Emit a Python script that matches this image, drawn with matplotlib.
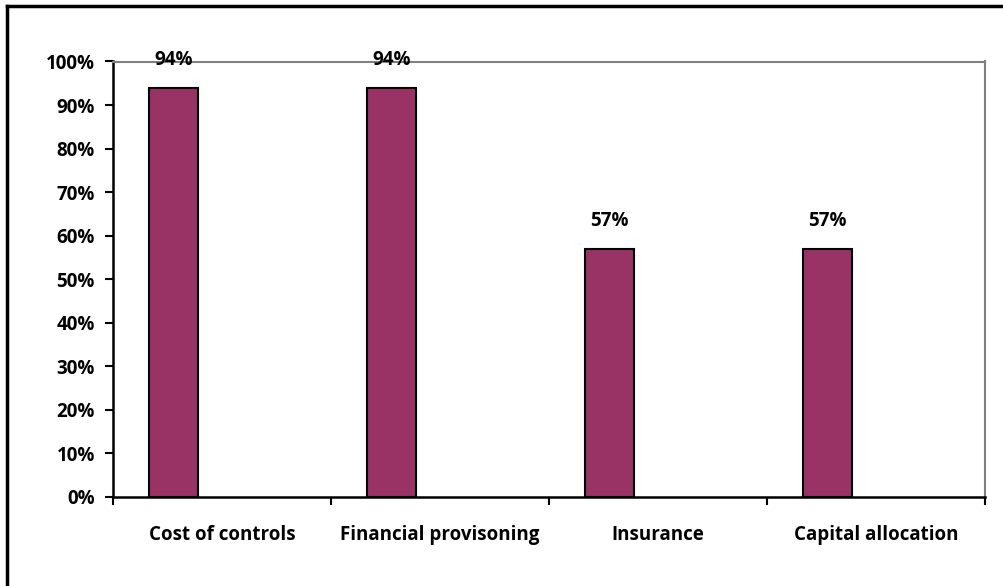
import matplotlib
matplotlib.use("Agg")
import matplotlib.pyplot as plt
from matplotlib.lines import Line2D

categories = ["Cost of controls", "Financial provisoning", "Insurance", "Capital allocation"]
values = [94, 94, 57, 57]
value_labels = ["94%", "94%", "57%", "57%"]

plt.rcParams['font.family'] = ['Open Sans', 'DejaVu Sans']
plt.rcParams['font.weight'] = 'bold'
FS = 13.5

fig = plt.figure(figsize=(10.04, 5.86), dpi=100)
ax = fig.add_axes([113 / 1004, 1 - 497 / 586, 872 / 1004, 435.5 / 586])

# bars sit in the first slot of a 3-series cluster (gap 150%)
slot = 1 / 4.5
xs = [i - 0.5 + 1.5 * slot / 2 + slot / 2 for i in range(len(categories))]
ax.bar(xs, values, width=slot, color='#993366', edgecolor='black', linewidth=1.5, zorder=3)

for x, v, lab in zip(xs, values, value_labels):
    ax.annotate(lab, (x, v), xytext=(0, 28), textcoords='offset pixels',
                ha='center', va='center', fontsize=FS, fontweight='bold', color='black')

ax.set_xlim(-0.5, len(categories) - 0.5)
ax.set_ylim(0, 100)
ax.set_yticks(range(0, 101, 10))
ax.set_yticklabels([f"{t}%" for t in range(0, 101, 10)])
ax.set_xticks([i + 0.5 for i in range(-1, len(categories))])
ax.set_xticklabels([])
ax.set_xticks(range(len(categories)), minor=True)
ax.set_xticklabels(categories, minor=True)
ax.tick_params(axis='x', which='minor', length=0, pad=20, labelsize=FS)
ax.tick_params(axis='x', which='major', length=6, width=1.5, direction='out')
ax.tick_params(axis='y', length=6, width=1.5, direction='out', pad=7, labelsize=FS)

ax.spines['left'].set_linewidth(1.8)
ax.spines['bottom'].set_linewidth(1.8)
for s in ['top', 'right']:
    ax.spines[s].set_color('#808080')
    ax.spines[s].set_linewidth(1.5)

# outer chart border (right and bottom are cut off in the original)
fig.add_artist(Line2D([7.5 / 1004, 7.5 / 1004], [0, 1 - 6 / 586], color='black', linewidth=2.5))
fig.add_artist(Line2D([7.5 / 1004, 1], [1 - 6 / 586, 1 - 6 / 586], color='black', linewidth=2.5))

fig.savefig("out.png", dpi=100)
